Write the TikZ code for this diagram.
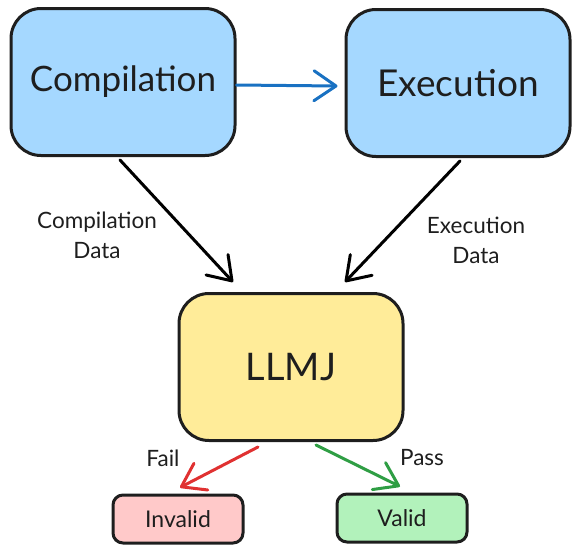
\documentclass[tikz,border=0pt]{standalone}
\usepackage{fontspec}
\setmainfont{Lato}
\usetikzlibrary{arrows.meta}

\definecolor{stroke}{HTML}{1E1E1E}
\definecolor{bluefill}{HTML}{A5D8FF}
\definecolor{yellowfill}{HTML}{FFEC99}
\definecolor{redfill}{HTML}{FFC9C9}
\definecolor{greenfill}{HTML}{B2F2BB}
\definecolor{bluearrow}{HTML}{1971C2}
\definecolor{redarrow}{HTML}{E03131}
\definecolor{greenarrow}{HTML}{2F9E44}

\tikzset{
  bigbox/.style={draw=stroke, line width=3pt, rounded corners=30pt, text=stroke,
    minimum width=224pt, minimum height=147pt, font=\fontsize{35}{40}\selectfont},
  smallbox/.style={draw=stroke, line width=3pt, rounded corners=10pt, text=stroke,
    minimum width=130pt, minimum height=48pt, font=\fontsize{23}{26}\selectfont},
  label/.style={text=stroke, align=center, font=\fontsize{22.5}{30}\selectfont},
  flow/.style={line width=3pt, line cap=round, line join=round,
    -{Straight Barb[length=22pt,width=30pt,round]}},
}

\begin{document}
\begin{tikzpicture}[x=1pt,y=-1pt]
  \useasboundingbox (0,0) rectangle (576,550);

  % stages
  \node[bigbox, fill=bluefill] (comp) at (123,82) {Compilation};
  \node[bigbox, fill=bluefill, font=\fontsize{37}{42}\selectfont] (exec) at (458,83) {Execution};
  \node[bigbox, fill=yellowfill, font=\fontsize{38}{44}\selectfont] (llmj) at (291,367) {LLMJ};

  % verdicts
  \node[smallbox, fill=redfill] (invalid) at (178,519) {Invalid};
  \node[smallbox, fill=greenfill] (valid) at (402,518) {Valid};

  % arrows
  \draw[flow, bluearrow] ([yshift=-3pt]comp.east) -- ([yshift=-3pt,xshift=-7pt]exec.west);
  \draw[flow, stroke] ([xshift=-3pt,yshift=-3pt]comp.south) -- ([xshift=-58pt,yshift=10pt]llmj.north);
  \draw[flow, stroke] ([xshift=2pt,yshift=-3pt]exec.south) -- ([xshift=54pt,yshift=10pt]llmj.north);
  \draw[flow, redarrow] ([xshift=-33pt,yshift=-5pt]llmj.south) -- ([xshift=2pt,yshift=6pt]invalid.north);
  \draw[flow, greenarrow] ([xshift=25pt,yshift=-3pt]llmj.south) -- ([xshift=-2pt,yshift=6pt]valid.north);

  \node[label] (complabel) at (97,235) {Compilation\\Data};
  \node[label] (execlabel) at (476,240) {Execution\\Data};
  \node[label] (faillabel) at (163,458) {Fail};
  \node[label] (passlabel) at (422,458) {Pass};
\end{tikzpicture}
\end{document}
